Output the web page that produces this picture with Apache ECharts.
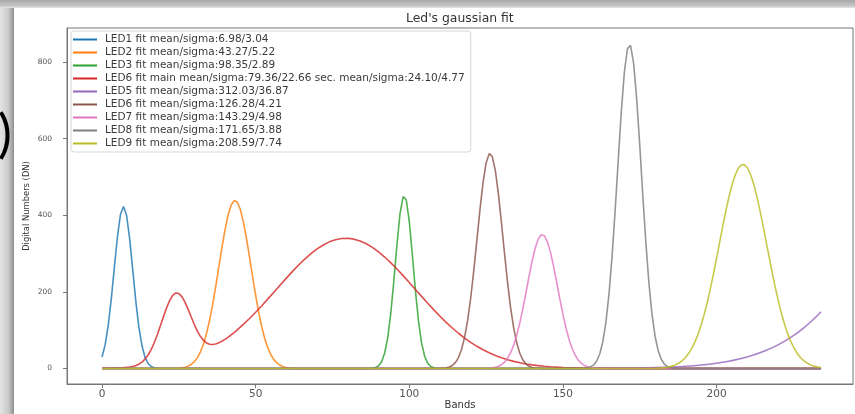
<!DOCTYPE html>
<html><head><meta charset="utf-8">
<script src="https://cdn.jsdelivr.net/npm/echarts@6/dist/echarts.min.js"></script>
<style>html,body{margin:0;padding:0;background:#fff}#c{width:855px;height:414px}</style>
</head><body><div id="c"></div>
<script>
const titleText = "Led's gaussian fit";
const xName = 'Bands';
const yName = 'Digital Numbers (DN)';
const xTicks = [0, 50, 100, 150, 200];
const yTicks = [0, 200, 400, 600, 800];
const bandMin = 0, bandMax = 234;

const seriesNames = [
  'LED1 fit mean/sigma:6.98/3.04',
  'LED2 fit mean/sigma:43.27/5.22',
  'LED3 fit mean/sigma:98.35/2.89',
  'LED6 fit main mean/sigma:79.36/22.66 sec. mean/sigma:24.10/4.77',
  'LED5 fit mean/sigma:312.03/36.87',
  'LED6 fit mean/sigma:126.28/4.21',
  'LED7 fit mean/sigma:143.29/4.98',
  'LED8 fit mean/sigma:171.65/3.88',
  'LED9 fit mean/sigma:208.59/7.74'
];
const seriesColors = ['#1f77b4', '#ff7f0e', '#2ca02c', '#d62728', '#9467bd', '#8c564b', '#e377c2', '#7f7f7f', '#bcbd22'];

// LED1 (bands 0..20)
const led1Start = 0;
const led1Values = [30, 61, 111, 180, 262, 342, 402, 423, 400, 339, 258, 176, 108, 60, 29, 13, 5.2, 1.8, 0.6, 0.2, 0];
// LED2 (bands 24..63)
const led2Start = 24;
const led2Values = [0.5, 1, 1.8, 3.4, 6.1, 10.5, 17.4, 27.7, 42.7, 63.4, 90.7, 125.2, 166.5, 213.4, 263.7, 314.2, 360.8, 399.4, 426.2, 438.4, 434.7, 415.6, 382.9, 340.1, 291.2, 240.3, 191.2, 146.7, 108.4, 77.3, 53.1, 35.2, 22.4, 13.8, 8.2, 4.7, 2.6, 1.4, 0.7, 0.3];
// LED3 (bands 86..111)
const led3Start = 86;
const led3Values = [0, 0.2, 0.7, 2.4, 7, 17.8, 40.4, 81.4, 145.6, 230.8, 324.7, 405.3, 448.7, 440.7, 384, 296.8, 203.6, 123.8, 66.8, 32, 13.6, 5.1, 1.7, 0.5, 0.1, 0];
// LED6 main + secondary (red)
const redBands = [0, 1, 2, 3, 4, 5, 6, 7, 8, 9, 10, 11, 12, 13, 14, 15, 16, 17, 18, 19, 20, 21, 22, 23, 24, 25, 26, 27, 28, 29, 30, 31, 32, 33, 34, 35, 36, 37, 38, 39, 40, 41, 42, 43, 44,
  46, 48, 50, 52, 54, 56, 58, 60, 62, 64, 66, 68, 70, 72, 74, 76, 78, 80, 82, 84, 86, 88, 90, 92, 94, 96, 98, 100, 102, 104, 106, 108, 110, 112, 114, 116, 118, 120, 122, 124, 126, 128, 130, 132, 134, 136, 138, 140, 142, 144, 146, 148, 150,
  155, 160, 165, 170, 180];
const redValues = [0.7, 0.9, 1.0, 1.2, 1.4, 1.6, 1.9, 2.4, 3.0, 4.0, 5.4, 7.7, 11.3, 16.7, 24.4, 35.2, 49.4, 67.2, 88.2, 111.4, 135.4, 158.0, 177.2, 190.7, 197.2, 195.9, 187.6, 173.2, 155.0, 135.0, 115.5, 98.1, 84.0, 73.5, 66.7, 63.2, 62.5, 63.8, 66.9, 71.0, 76.0, 81.4, 87.6, 93.8, 100.7,
  115.1, 130.5, 146.9, 164.0, 181.8, 199.9, 218.0, 236.0, 253.5, 270.2, 285.8, 299.9, 312.2, 322.5, 330.6, 336.3, 339.4, 339.9, 337.7, 333.0, 325.7, 316.2, 304.5, 291.0, 275.9, 259.7, 242.4, 224.6, 206.4, 188.3, 170.4, 153.0, 136.3, 120.5, 105.7, 92.0, 79.5, 68.1, 57.9, 48.8, 40.9, 34.0, 28.0, 22.9, 18.6, 15.0, 11.9, 9.5, 7.5, 5.8, 4.5, 3.5, 2.6,
  1.3, 0.6, 0.3, 0.1, 0];
// LED5 (purple)
const led5Bands = [0, 150, 160, 170, 180, 185, 190, 195, 200, 204, 208, 212, 216, 220, 224, 228, 232, 234];
const led5Values = [0, 0.1, 0.3, 0.8, 2.3, 3.7, 5.8, 9.0, 13.7, 19.0, 26.0, 35.0, 46.8, 61.7, 80.4, 103.5, 131.8, 148.1];
// LED6 (brown, bands 110..143)
const led6Start = 110;
const led6Values = [0.3, 0.8, 1.8, 3.9, 8.0, 15.5, 28.5, 49.5, 81.3, 126.0, 184.7, 256.0, 335.2, 414.9, 485.3, 536.6, 560.8, 553.8, 517.0, 456.1, 380.4, 299.8, 223.3, 157.2, 104.6, 65.8, 39.1, 22.0, 11.7, 5.9, 2.8, 1.2, 0.5, 0.2];
// LED7 (pink, bands 125..162)
const led7Start = 125;
const led7Values = [0.4, 0.8, 1.7, 3.1, 5.7, 9.9, 16.7, 26.8, 41.4, 61.4, 87.6, 119.9, 157.6, 199.1, 241.5, 281.4, 314.9, 338.5, 349.4, 346.5, 329.9, 301.9, 265.2, 223.8, 181.4, 141.2, 105.6, 75.8, 52.3, 34.6, 22.1, 13.5, 7.9, 4.5, 2.4, 1.3, 0.6, 0.3];
// LED8 (grey, bands 155..188)
const led8Start = 155;
const led8Values = [0.1, 0.25, 0.7, 1.7, 4.2, 9.3, 19.6, 38.4, 70.6, 121.3, 195.0, 293.4, 413.1, 544.1, 670.8, 773.8, 835.2, 843.5, 797.3, 705.0, 583.5, 451.8, 327.4, 221.9, 140.9, 83.6, 46.4, 24.1, 11.7, 5.3, 2.3, 0.9, 0.3, 0.1];
// LED9 (olive, bands 180..234)
const led9Start = 180;
const led9Values = [0.6, 0.9, 1.5, 2.3, 3.4, 5.1, 7.5, 10.9, 15.5, 21.6, 29.8, 40.3, 53.6, 70.1, 90.1, 114.1, 141.9, 173.7, 209.1, 247.4, 287.9, 329.5, 370.9, 410.6, 447.0, 478.6, 504.0, 521.9, 531.5, 532.3, 524.2, 507.8, 483.7, 453.2, 417.5, 378.2, 337.0, 295.3, 254.5, 215.7, 179.8, 147.4, 118.8, 94.2, 73.4, 56.3, 42.5, 31.5, 23.0, 16.5, 11.6, 8.1, 5.5, 3.7, 2.4];

function fromStart(start, values) { return values.map((v, i) => [start + i, v]); }
function fromBands(bands, values) { return bands.map((b, i) => [b, values[i]]); }
function withBaseline(pts) {
  const out = pts.slice();
  if (out[0][0] > bandMin) out.unshift([bandMin, 0]);
  if (out[out.length - 1][0] < bandMax) out.push([bandMax, 0]);
  return out;
}

const seriesData = [
  fromStart(led1Start, led1Values),
  fromStart(led2Start, led2Values),
  fromStart(led3Start, led3Values),
  fromBands(redBands, redValues),
  fromBands(led5Bands, led5Values),
  fromStart(led6Start, led6Values),
  fromStart(led7Start, led7Values),
  fromStart(led8Start, led8Values),
  fromStart(led9Start, led9Values)
].map(withBaseline);

const FONT = 'DejaVu Sans';
const chart = echarts.init(document.getElementById('c'), null, {renderer: 'canvas'});
chart.setOption({
  animation: false,
  backgroundColor: '#fff',
  color: seriesColors,
  title: {
    text: titleText, left: 406, top: 13, padding: 0,
    textStyle: {fontSize: 12.4, fontWeight: 'normal', color: '#333', fontFamily: FONT}
  },
  legend: {
    orient: 'vertical', left: 71, top: 31,
    padding: [2, 6, 2, 2],
    itemWidth: 24, itemHeight: 2, itemGap: 0,
    icon: 'rect',
    backgroundColor: 'rgba(255,255,255,0.85)',
    borderColor: '#d6d6d6', borderWidth: 1, borderRadius: 3,
    textStyle: {fontSize: 10.5, color: '#3a3a3a', fontFamily: FONT, lineHeight: 13, padding: [0, 0, 0, 3]},
    data: seriesNames
  },
  grid: {left: 67, right: 2, top: 28, bottom: 30, show: true, borderColor: '#777', borderWidth: 1,
    outerBoundsMode: 'none', containLabel: false},
  xAxis: {
    type: 'value', min: -11.39, max: 244.4,
    name: xName, nameLocation: 'middle', nameGap: 16, nameMoveOverlap: false,
    nameTextStyle: {fontSize: 10, color: '#333', fontFamily: FONT},
    axisLine: {show: true, onZero: false, lineStyle: {color: '#777'}},
    axisTick: {show: true, customValues: xTicks, length: 4, lineStyle: {color: '#777'}},
    axisLabel: {customValues: xTicks, fontSize: 10.5, color: '#555', margin: 5, fontFamily: FONT},
    splitLine: {show: false}
  },
  yAxis: {
    type: 'value', min: -40.5, max: 889,
    name: yName, nameLocation: 'middle', nameGap: 36, nameMoveOverlap: false,
    nameTextStyle: {fontSize: 8.4, color: '#333', fontFamily: FONT},
    axisLine: {show: true, onZero: false, lineStyle: {color: '#777'}},
    axisTick: {show: true, customValues: yTicks, length: 4, lineStyle: {color: '#777'}},
    axisLabel: {customValues: yTicks, fontSize: 7.5, color: '#555', margin: 15, fontFamily: FONT},
    splitLine: {show: false}
  },
  series: seriesData.map((d, i) => ({
    name: seriesNames[i], type: 'line', data: d, showSymbol: false, symbol: 'none',
    smooth: i === 4 ? 0.3 : false,
    lineStyle: {width: 1.6, color: seriesColors[i], opacity: 0.82},
    itemStyle: {color: seriesColors[i]}
  })),
  graphic: [
    {type: 'rect', z: 100, shape: {x: 0, y: 0, width: 14, height: 414},
      style: {fill: new echarts.graphic.LinearGradient(0, 0, 1, 0, [{offset: 0, color: '#e4e4e4'}, {offset: 0.6, color: '#cacaca'}, {offset: 1, color: '#8e8e8e'}])}},
    {type: 'rect', z: 100, shape: {x: 0, y: 0, width: 855, height: 8},
      style: {fill: new echarts.graphic.LinearGradient(0, 0, 0, 1, [{offset: 0, color: '#a8a8a8'}, {offset: 0.7, color: '#c4c4c4'}, {offset: 1, color: '#e6e6e6'}])}},
    {type: 'text', z: 101, x: -2, y: 135,
      style: {text: ')', font: '400 52px Lato', fill: '#000', textVerticalAlign: 'middle'}}
  ]
});
</script>
</body></html>
